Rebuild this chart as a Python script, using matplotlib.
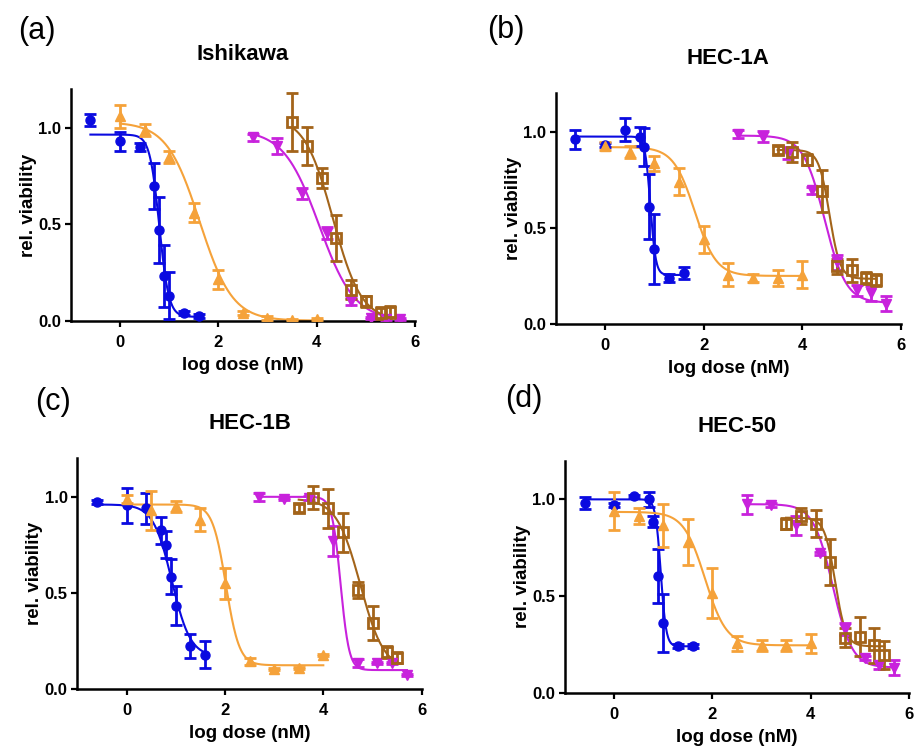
import numpy as np
import matplotlib
matplotlib.use("Agg")
import matplotlib.pyplot as plt

plt.rcParams['font.family'] = ['Liberation Sans', 'DejaVu Sans']

# colours of the four compounds
col_blue = '#0a0ae0'
col_orange = '#f5a23a'
col_magenta = '#c822dc'
col_brown = '#a3641a'

panel_labels = ['(a)', '(b)', '(c)', '(d)']
cell_lines = ['Ishikawa', 'HEC-1A', 'HEC-1B', 'HEC-50']

# ---- (a) Ishikawa ----
a_blue_x = [-0.6, 0.0, 0.4, 0.7, 0.8, 0.9, 1.0, 1.3, 1.6]
a_blue_y = [1.04, 0.93, 0.90, 0.70, 0.47, 0.23, 0.13, 0.04, 0.025]
a_blue_e = [0.03, 0.05, 0.02, 0.12, 0.17, 0.16, 0.12, 0.01, 0.01]
a_orange_x = [0.0, 0.5, 1.0, 1.5, 2.0, 2.5, 3.0, 3.5, 4.0]
a_orange_y = [1.06, 0.99, 0.85, 0.56, 0.215, 0.04, 0.012, 0.004, 0.008]
a_orange_e = [0.06, 0.03, 0.03, 0.05, 0.05, 0.01, 0.01, 0.005, 0.005]
a_magenta_x = [2.7, 3.2, 3.7, 4.2, 4.7, 5.1, 5.4, 5.7]
a_magenta_y = [0.95, 0.905, 0.66, 0.455, 0.10, 0.012, 0.01, 0.01]
a_magenta_e = [0.02, 0.04, 0.03, 0.03, 0.02, 0.005, 0.005, 0.005]
a_brown_x = [3.5, 3.8, 4.1, 4.4, 4.7, 5.0, 5.3, 5.5]
a_brown_y = [1.03, 0.905, 0.74, 0.43, 0.16, 0.10, 0.04, 0.045]
a_brown_e = [0.15, 0.10, 0.05, 0.12, 0.05, 0.03, 0.03, 0.03]

# ---- (b) HEC-1A ----
b_blue_x = [-0.6, 0.0, 0.4, 0.7, 0.8, 0.9, 1.0, 1.3, 1.6]
b_blue_y = [0.96, 0.93, 1.01, 0.975, 0.92, 0.61, 0.39, 0.24, 0.265]
b_blue_e = [0.05, 0.01, 0.06, 0.05, 0.10, 0.17, 0.18, 0.02, 0.03]
b_orange_x = [0.0, 0.5, 1.0, 1.5, 2.0, 2.5, 3.0, 3.5, 4.0]
b_orange_y = [0.925, 0.895, 0.835, 0.74, 0.44, 0.255, 0.24, 0.24, 0.255]
b_orange_e = [0.02, 0.03, 0.04, 0.07, 0.07, 0.06, 0.02, 0.04, 0.07]
b_magenta_x = [2.7, 3.2, 3.7, 4.2, 4.7, 5.1, 5.4, 5.7]
b_magenta_y = [0.99, 0.975, 0.89, 0.695, 0.32, 0.175, 0.16, 0.105]
b_magenta_e = [0.02, 0.03, 0.03, 0.02, 0.04, 0.03, 0.04, 0.04]
b_brown_x = [3.5, 3.8, 4.1, 4.4, 4.7, 5.0, 5.3, 5.5]
b_brown_y = [0.905, 0.895, 0.855, 0.69, 0.30, 0.28, 0.24, 0.23]
b_brown_e = [0.02, 0.05, 0.03, 0.11, 0.04, 0.06, 0.03, 0.03]

# ---- (c) HEC-1B ----
c_blue_x = [-0.6, 0.0, 0.4, 0.7, 0.8, 0.9, 1.0, 1.3, 1.6]
c_blue_y = [0.975, 0.955, 0.94, 0.825, 0.75, 0.585, 0.435, 0.225, 0.18]
c_blue_e = [0.01, 0.09, 0.08, 0.07, 0.07, 0.09, 0.10, 0.06, 0.07]
c_orange_x = [0.0, 0.5, 1.0, 1.5, 2.0, 2.5, 3.0, 3.5, 4.0]
c_orange_y = [0.99, 0.93, 0.95, 0.88, 0.55, 0.145, 0.105, 0.11, 0.18]
c_orange_e = [0.02, 0.10, 0.03, 0.06, 0.08, 0.02, 0.005, 0.005, 0.005]
c_magenta_x = [2.7, 3.2, 3.7, 4.2, 4.7, 5.1, 5.4, 5.7]
c_magenta_y = [1.0, 0.99, 0.995, 0.77, 0.135, 0.135, 0.135, 0.075]
c_magenta_e = [0.02, 0.005, 0.01, 0.08, 0.02, 0.005, 0.005, 0.005]
c_brown_x = [3.5, 3.8, 4.1, 4.4, 4.7, 5.0, 5.3, 5.5]
c_brown_y = [0.94, 0.995, 0.94, 0.815, 0.515, 0.345, 0.195, 0.165]
c_brown_e = [0.02, 0.06, 0.10, 0.10, 0.04, 0.09, 0.03, 0.03]

# ---- (d) HEC-50 ----
d_blue_x = [-0.6, 0.0, 0.4, 0.7, 0.8, 0.9, 1.0, 1.3, 1.6]
d_blue_y = [0.98, 0.97, 1.015, 1.0, 0.885, 0.605, 0.36, 0.24, 0.24]
d_blue_e = [0.03, 0.01, 0.01, 0.04, 0.03, 0.14, 0.15, 0.01, 0.01]
d_orange_x = [0.0, 0.5, 1.0, 1.5, 2.0, 2.5, 3.0, 3.5, 4.0]
d_orange_y = [0.94, 0.915, 0.865, 0.78, 0.515, 0.255, 0.245, 0.245, 0.255]
d_orange_e = [0.10, 0.04, 0.11, 0.12, 0.13, 0.04, 0.03, 0.03, 0.05]
d_magenta_x = [2.7, 3.2, 3.7, 4.2, 4.7, 5.1, 5.4, 5.7]
d_magenta_y = [0.975, 0.97, 0.865, 0.72, 0.33, 0.18, 0.145, 0.13]
d_magenta_e = [0.05, 0.01, 0.05, 0.01, 0.03, 0.01, 0.02, 0.04]
d_brown_x = [3.5, 3.8, 4.1, 4.4, 4.7, 5.0, 5.3, 5.5]
d_brown_y = [0.875, 0.915, 0.875, 0.675, 0.285, 0.29, 0.245, 0.195]
d_brown_e = [0.03, 0.04, 0.07, 0.12, 0.05, 0.10, 0.09, 0.07]

# fitted 4-parameter logistic curves: top, bottom, logIC50, hill slope
a_fits = [[0.965, 0.02, 0.80, 4.5], [1.03, 0.0, 1.62, 1.3],
          [0.99, 0.0, 4.05, 1.2], [1.06, 0.0, 4.33, 1.5]]
b_fits = [[0.975, 0.255, 0.92, 8.0], [0.92, 0.25, 1.82, 2.0],
          [0.98, 0.11, 4.45, 2.0], [0.905, 0.235, 4.55, 4.0]]
c_fits = [[0.96, 0.17, 0.92, 2.3], [0.96, 0.125, 2.02, 3.2],
          [1.0, 0.10, 4.35, 5.0], [0.99, 0.10, 4.75, 1.8]]
d_fits = [[1.0, 0.24, 0.95, 8.0], [0.935, 0.245, 1.85, 2.0],
          [0.975, 0.13, 4.45, 2.2], [0.905, 0.24, 4.5, 4.0]]

panels = [
    ([a_blue_x, a_orange_x, a_magenta_x, a_brown_x],
     [a_blue_y, a_orange_y, a_magenta_y, a_brown_y],
     [a_blue_e, a_orange_e, a_magenta_e, a_brown_e], a_fits),
    ([b_blue_x, b_orange_x, b_magenta_x, b_brown_x],
     [b_blue_y, b_orange_y, b_magenta_y, b_brown_y],
     [b_blue_e, b_orange_e, b_magenta_e, b_brown_e], b_fits),
    ([c_blue_x, c_orange_x, c_magenta_x, c_brown_x],
     [c_blue_y, c_orange_y, c_magenta_y, c_brown_y],
     [c_blue_e, c_orange_e, c_magenta_e, c_brown_e], c_fits),
    ([d_blue_x, d_orange_x, d_magenta_x, d_brown_x],
     [d_blue_y, d_orange_y, d_magenta_y, d_brown_y],
     [d_blue_e, d_orange_e, d_magenta_e, d_brown_e], d_fits),
]

colors = [col_blue, col_orange, col_magenta, col_brown]
markers = ['o', '^', 'v', 's']

# axes boxes in figure fractions [left, bottom, width, height]
boxes = [[0.0773, 0.5707, 0.3763, 0.3098],
         [0.6073, 0.5663, 0.3774, 0.3088],
         [0.0845, 0.0772, 0.3764, 0.3093],
         [0.6175, 0.0727, 0.3758, 0.3106]]


def logistic(x, top, bottom, logic50, hill):
    return bottom + (top - bottom) / (1 + 10 ** ((x - logic50) * hill))


fig = plt.figure(figsize=(9.15, 7.47), dpi=100)

for k in range(4):
    xs, ys, es, fits = panels[k]
    ax = fig.add_axes(boxes[k])
    for i in range(4):
        c = colors[i]
        xx = np.linspace(xs[i][0], xs[i][-1], 300)
        ax.plot(xx, logistic(xx, *fits[i]), color=c, lw=1.5, zorder=2)
        if markers[i] == 's':
            ax.errorbar(xs[i], ys[i], yerr=es[i], fmt='s', ms=6.5, mfc='none',
                        mec=c, mew=2, ecolor=c, elinewidth=2, capsize=4,
                        capthick=2, zorder=3)
        else:
            ax.errorbar(xs[i], ys[i], yerr=es[i], fmt=markers[i], ms=6.5,
                        color=c, ecolor=c, elinewidth=2, capsize=4,
                        capthick=2, zorder=3)
    ax.set_xlim(-1, 6)
    ax.set_ylim(0, 1.2)
    ax.set_xticks([0, 2, 4, 6])
    ax.set_yticks([0.0, 0.5, 1.0])
    ax.set_yticklabels(['0.0', '0.5', '1.0'])
    for s in ['top', 'right']:
        ax.spines[s].set_visible(False)
    for s in ['left', 'bottom']:
        ax.spines[s].set_linewidth(1.8)
    ax.tick_params(direction='out', length=4, width=1.6, labelsize=12)
    ax.tick_params(axis='x', pad=6)
    ax.tick_params(axis='y', pad=3)
    for t in ax.get_xticklabels() + ax.get_yticklabels():
        t.set_fontweight('bold')
    ax.set_xlabel('log dose (nM)', fontsize=13.5, fontweight='bold', labelpad=5)
    ax.set_ylabel('rel. viability', fontsize=13.5, fontweight='bold', labelpad=1)
    ax.set_title(cell_lines[k], fontsize=16, fontweight='bold', pad=21)
    ax.patch.set_alpha(0)

# panel letters
label_pos = [(0.02, 0.958), (0.532, 0.96), (0.038, 0.462), (0.552, 0.466)]
for k in range(4):
    fig.text(label_pos[k][0], label_pos[k][1], panel_labels[k], fontsize=22,
             va='center', ha='left')

fig.savefig('out.png', dpi=100)
